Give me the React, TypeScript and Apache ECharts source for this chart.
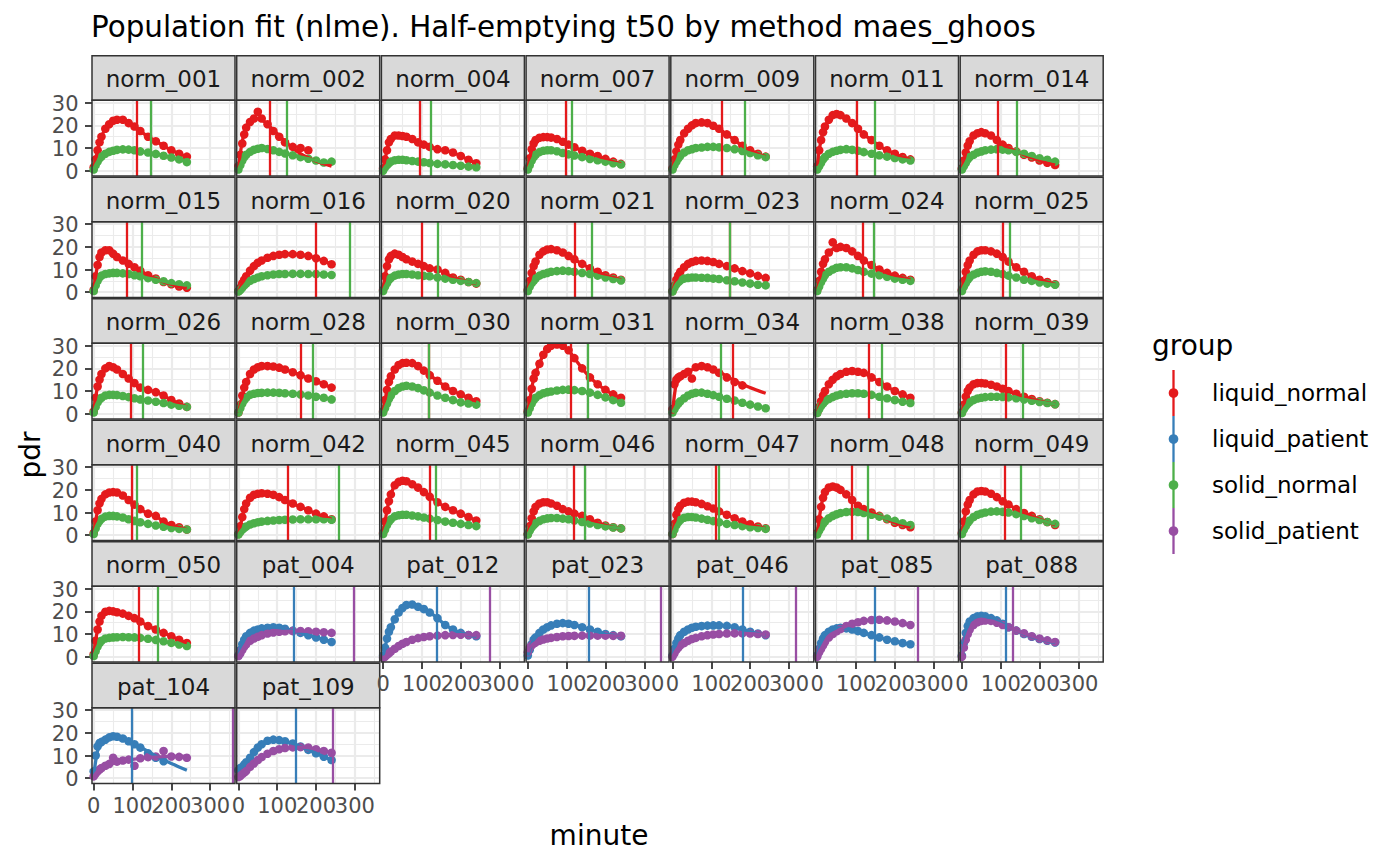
import React, { useEffect, useRef } from "react";
import * as echarts from "echarts";

const TITLE = "Population fit (nlme). Half-emptying t50 by method maes_ghoos";

const PANELS = [
  "norm_001", "norm_002", "norm_004", "norm_007", "norm_009", "norm_011", "norm_014",
  "norm_015", "norm_016", "norm_020", "norm_021", "norm_023", "norm_024", "norm_025",
  "norm_026", "norm_028", "norm_030", "norm_031", "norm_034", "norm_038", "norm_039",
  "norm_040", "norm_042", "norm_045", "norm_046", "norm_047", "norm_048", "norm_049",
  "norm_050", "pat_004", "pat_012", "pat_023", "pat_046", "pat_085", "pat_088",
  "pat_104", "pat_109",
];

const TIMES = [0, 5, 10, 15, 20, 30, 40, 50, 60, 75, 90, 105, 120, 140, 160, 180, 200, 220, 240];
const FIT_TIMES = [0, 10, 20, 30, 45, 60, 90, 120, 160, 200, 240];

// pdr of the liquid meal (liquid_normal / liquid_patient), one row per panel, at TIMES
const LIQUID_PDR: (number | null)[][] = [
  [1.5, 5, 9, 12.5, 15, 18.5, 20.5, 22, 22.5, 22.5, 21, 19.5, 17.5, 15, 13, 11, 9, 7.5, 6.2],
  [2, 7, 12, 16, 19, 21.5, 23, 26, 23, 20.5, 17.5, 15, 12.5, 10.5, 10, 9, null, null, null],
  [1, 5, 9, 12.5, 14, 15.5, 15.5, 15.3, 15, 14, 12.5, 11.5, 10.5, 9.5, 9, 8, 6.5, 4.8, 3.3],
  [1, 5.5, 9.5, 12, 13.5, 14.5, 14.8, 14.8, 14.6, 14, 12.8, 11.5, 10.3, 8.8, 7.5, 6.5, 5.2, 4, 3],
  [1, 5, 8.5, 11.5, 13.5, 16.5, 18.5, 20, 21, 21.3, 21, 19.8, 18.5, 16, 13.5, 11, 9, 7.5, 6.2],
  [2, 9, 13.5, 17, 19.5, 22.5, 24.5, 25, 24.5, 23, 21, 18.5, 16, 13.5, 11, 9, 7.5, 6, 5],
  [1, 4.5, 8, 11, 13, 15.5, 16.5, 17, 16.5, 15.5, 13.5, 11.5, 10, 8.5, 7, 5.8, 4.5, 3.5, 2.5],
  [1, 7, 12, 15.5, 17.5, 18.5, 18.5, 17, 15.5, 14, 12.5, 11, 9.5, 7.5, 6, 4.5, 3.5, 2.5, 2],
  [0.5, 2, 4, 5.5, 7, 9.5, 11.5, 13, 14, 15.2, 16, 16.5, 16.8, 16.8, 16.5, 16, 15, 13.8, 12.3],
  [1, 7, 11.5, 14.5, 16, 17, 16.5, 15.5, 14.5, 13.5, 12.5, 11.5, 10.5, 10, 8.5, 6.5, 5.5, 4.5, 3.8],
  [1, 5, 8.5, 11.5, 13.5, 16.5, 18, 18.8, 19, 18.5, 17.5, 16, 14.5, 12.5, 10.5, 9, 7.5, 6.5, 5.5],
  [0.5, 3, 5.5, 7.5, 9, 11, 12.5, 13.3, 13.8, 14, 13.8, 13.3, 12.5, 11.5, 10.5, 9.3, 8.3, 7.2, 6.3],
  [1, 5, 9, 12.5, 14.5, 17.5, 22, 19.5, 20, 19.5, 18, 16, 14, 12, 10, 8.5, 7.3, 6.3, 5.5],
  [1, 5, 9, 12, 14, 16.5, 18, 18.5, 18.5, 18, 17, 15.5, 13.5, 11, 9, 7, 5.5, 4.5, 3.5],
  [1, 7, 12, 15, 17.5, 20, 21, 20.5, 19.5, 17.5, 15.5, 13.5, 11.5, 10.5, 9.5, 8, 6, 4.5, 3],
  [0.5, 4, 8, 11.5, 14, 17.5, 19.5, 20.5, 21, 21, 20.8, 20.3, 19.5, 18.3, 17, 15.5, 14.3, 13, 11.5],
  [1, 6, 10.5, 14, 16.5, 19.5, 21.5, 22.3, 22.5, 22.3, 21, 19, 17, 14.5, 12, 10, 8.5, 7, 5.5],
  [1, 6, 11, 15.5, 18, 22, 26, 28.5, 30, 30.5, 30, 28, 24.5, 20, 16, 13, 10.5, 8.5, 7],
  [2, 13, 15, 16, 16.5, 17.5, 18.5, 15.5, 20.5, 21, 20.5, 19.5, 18, 16, 14, 12.5, null, null, null],
  [0.5, 3, 5.5, 8, 10, 13, 15, 16.5, 17.5, 18.5, 18.8, 18.5, 18, 16, 14, 12, 10, 8.5, 7],
  [0.5, 4, 7.5, 10, 11.5, 13, 13.5, 13.5, 13.3, 12.8, 12, 11, 10, 8.8, 7.5, 6.5, 5.5, 4.8, 4.2],
  [1, 6, 11, 14, 16, 18, 18.8, 19, 18.8, 17.5, 15.5, 13.5, 11.5, 9.5, 8.5, 6, 4.5, 3.5, 2.5],
  [0.5, 4, 8, 11.5, 14, 16.5, 17.8, 18.3, 18.5, 18.3, 17.8, 16.8, 15.5, 14, 12.5, 11, 9.5, 8.3, 7],
  [1, 6, 11, 15, 18, 22, 23.5, 24, 23.8, 22.5, 21, 19, 17, 14.5, 12.5, 11, 9.5, 8, 6.5],
  [0.5, 4, 7.5, 10.5, 12.5, 14, 14.5, 14.5, 14, 13, 11.5, 10.5, 9.5, 8.5, 7, 5.5, 4.3, 3.5, 3],
  [0.5, 5, 9, 11.5, 13, 14.3, 14.8, 14.8, 14.5, 13.8, 12.8, 11.8, 10.5, 9, 7.5, 6, 4.8, 3.8, 3],
  [1, 7, 12.5, 16.5, 19, 21, 21.5, 21, 20, 18, 15.5, 13, 11.5, 10, 8.5, 7, 5.5, 4.5, 3.5],
  [1, 6, 10.5, 13.5, 15.5, 18, 19.3, 19.5, 19.3, 18.3, 16.8, 15, 13.5, 11.5, 9.8, 8.5, 7, 5.8, 4.5],
  [1, 7, 12, 15.5, 18, 19.8, 20.2, 20, 19.6, 19, 18, 17, 15.5, 13.5, 12, 10.5, 9, 7.5, 6],
  [0.5, 3, 5.5, 7.5, 9, 10.5, 11.5, 12, 12.5, 12.8, 13, 12.8, 12.3, 11.5, 10.5, 9.5, 8.5, 7.5, 6.5],
  [0.5, 4, 8, 11, 13, 16.5, 19.5, 21.5, 22.8, 23, 22, 21, 19.5, 17, 14, 12, 10.5, 9.5, 9],
  [0.5, 3, 5.5, 7.5, 8.5, 10.5, 12, 13, 13.8, 14.5, 14.8, 14.5, 14, 13, 12, 11, 10, 9.5, 9],
  [0.5, 3.5, 6, 8, 9.5, 11, 12, 12.8, 13.2, 13.5, 13.7, 13.8, 13.8, 13.6, 13, 12, 11, 10.2, 9.5],
  [0.5, 3.5, 6, 8, 9.5, 11, 12, 12.5, 12.8, 12.5, 12, 11.3, 10.5, 9.5, 8.5, 7.5, 6.8, 6, 5.5],
  [0.5, 6, 10.5, 13.5, 15.5, 17, 17.8, 18, 17.8, 17, 16, 14.5, 13, 11.5, 10, 8.8, 7.8, 7, 6.3],
  [3, 10, 14, 15.5, 16, 17, 18, 18.5, 18.3, 17.5, 16.3, 15, 13.5, 11, 9, 7.5, null, null, null],
  [3.5, 4.5, 5, 6, 7, 9, 11.5, 13.5, 15, 16.5, 17, 16.8, 16.3, 15.3, 14, 12.5, 11, 9.5, 8],
];

// pdr of the solid meal (solid_normal / solid_patient), one row per panel, at TIMES
const SOLID_PDR: (number | null)[][] = [
  [0.5, 2.5, 4, 5.5, 6.2, 7.5, 8.3, 8.8, 9.2, 9.4, 9.3, 9, 8.5, 8, 7.4, 6.6, 5.8, 5, 3.8],
  [0.5, 2.5, 4.5, 6, 7, 8.3, 9.2, 9.7, 10, 9.6, 9, 8.3, 7.6, 6.8, 6, 5.3, 4.5, 3.6, 4],
  [0, 1.5, 2.5, 3.3, 4, 4.6, 4.8, 4.8, 4.6, 4.3, 4, 3.7, 3.4, 3, 2.8, 2.5, 2.2, 1.8, 1.5],
  [0.5, 2.5, 4.5, 6, 7, 8.2, 8.8, 9, 9, 8.6, 7.8, 7.2, 6.7, 6, 5.2, 4.6, 4, 3.3, 2.7],
  [0.5, 2.5, 4, 5.5, 6.5, 8, 9, 9.5, 10, 10.2, 10.5, 10.5, 10.3, 10, 9.5, 8.7, 7.8, 6.8, 6],
  [0.5, 2, 3.5, 5, 6, 7.5, 8.3, 8.8, 9.2, 9.5, 9.2, 8.8, 8.2, 7.5, 6.8, 6.2, 5.6, 5, 4.5],
  [0.5, 2, 3.5, 5, 6, 7, 8, 8.5, 9, 9.3, 9.5, 9.3, 9, 8.3, 7.5, 6.5, 5.5, 4.8, 4],
  [0.5, 3, 5, 6.5, 7.3, 8, 8.3, 8.5, 8.5, 8.3, 8, 7.5, 7, 6.2, 5.5, 4.8, 4, 3.5, 3],
  [0.3, 1, 2, 3, 3.8, 5, 5.8, 6.5, 7, 7.5, 7.8, 8, 8, 8.1, 8.1, 8, 8, 7.8, 7.6],
  [0.5, 2.5, 4, 5.5, 6.3, 7.3, 7.8, 8, 8, 7.8, 7.5, 7.2, 7, 6.5, 6, 5.5, 5, 4.5, 4],
  [0.5, 2.5, 4, 5, 6, 7.3, 8, 8.5, 9, 9.3, 9.5, 9.3, 9, 8.5, 8, 7.3, 6.5, 5.8, 5.2],
  [0.3, 2, 3.5, 4.5, 5.2, 6, 6.3, 6.5, 6.5, 6.4, 6.3, 6, 5.8, 5.3, 4.8, 4.3, 3.8, 3.3, 3],
  [0.5, 2.5, 4.5, 6, 7.5, 9, 10, 10.8, 11, 11, 10.5, 9.8, 9, 8.2, 7.5, 6.8, 6, 5.5, 5],
  [0.5, 2.5, 4, 5.5, 6.5, 7.8, 8.5, 9, 9.2, 9, 8.5, 8, 7.3, 6.5, 5.5, 5, 4.3, 3.8, 3.3],
  [0.5, 3, 5, 6.3, 7, 8, 8.3, 8.3, 8.2, 7.8, 7.3, 6.8, 6.3, 5.8, 5.3, 4.7, 4, 3.5, 3],
  [0.5, 2.5, 4.5, 6, 7, 8.3, 8.8, 9.1, 9.2, 9.3, 9.3, 9.2, 9, 8.8, 8.5, 8, 7.5, 7, 6.3],
  [0.5, 2.5, 4.5, 6.5, 8, 10, 11.3, 12, 12.3, 12, 11.3, 10.3, 9.3, 8, 7, 6, 5, 4.5, 4],
  [0.5, 2.5, 4.5, 6, 7, 8.2, 9, 9.5, 9.8, 10.2, 10.5, 10.6, 10.4, 10, 9.3, 8.3, 7.2, 6, 4.8],
  [0.5, 2, 3.5, 4.5, 5.5, 6.8, 8, 8.8, 9.2, 9.3, 8.8, 8.2, 7.5, 6.6, 5.8, 4.8, 4, 3.2, 2.4],
  [0.3, 2, 3.5, 4.5, 5.5, 6.5, 7.3, 8, 8.5, 8.8, 9, 9, 8.8, 8.3, 7.5, 6.8, 6, 5.3, 4.7],
  [0.3, 2, 3.3, 4.3, 5, 6, 6.7, 7, 7.3, 7.5, 7.5, 7.4, 7.2, 6.8, 6.3, 5.7, 5.2, 4.7, 4.2],
  [0.5, 3, 5, 6.3, 7.2, 8.2, 8.5, 8.5, 8.3, 7.8, 7, 6.3, 5.7, 5, 4.3, 3.7, 3.2, 2.8, 2.5],
  [0.3, 1.5, 2.5, 3.2, 3.8, 4.7, 5.3, 5.7, 6, 6.3, 6.5, 6.7, 6.8, 6.9, 7, 7, 7, 7, 6.8],
  [0.5, 2.5, 4.5, 6, 7, 8.3, 8.8, 9, 9, 8.7, 8.3, 7.8, 7.3, 6.7, 6, 5.5, 5, 4.5, 4],
  [0.3, 2, 3.5, 4.5, 5.3, 6.3, 7, 7.4, 7.6, 7.6, 7.3, 7, 6.5, 5.8, 5.2, 4.5, 3.9, 3.4, 3],
  [0.5, 2.5, 4.5, 5.8, 6.7, 7.7, 8, 8, 7.8, 7.3, 6.8, 6.2, 5.7, 5, 4.5, 4, 3.5, 3.2, 2.8],
  [0.3, 2, 3.5, 5, 6, 7.5, 8.5, 9.2, 9.8, 10.2, 10.3, 10.2, 9.8, 9, 8.2, 7.3, 6.3, 5.3, 4.5],
  [0.5, 2.5, 4, 5.5, 6.5, 8, 9, 9.6, 10, 10.4, 10.5, 10.3, 10, 9.3, 8.5, 7.5, 6.7, 5.8, 5],
  [0.3, 2.5, 4.5, 6, 7, 8, 8.3, 8.5, 8.6, 8.7, 8.6, 8.5, 8.3, 7.9, 7.4, 6.8, 6.1, 5.4, 4.7],
  [0.3, 1.5, 3, 4.5, 5.5, 7, 8, 8.8, 9.5, 10.2, 10.7, 11, 11.2, 11.3, 11.3, 11.2, 11, 10.8, 10.5],
  [-0.5, 0, 0.8, 1.5, 2.3, 3.5, 4.7, 5.7, 6.5, 7.5, 8.2, 8.7, 9, 9.3, 9.5, 9.6, 9.7, 9.6, 9.5],
  [2, 4, 5, 5.8, 6.3, 7, 7.6, 8, 8.3, 8.7, 9, 9.1, 9.2, 9.3, 9.3, 9.3, 9.3, 9.2, 9.2],
  [0, 1.5, 3, 4, 5, 6, 7, 7.8, 8.3, 9, 9.5, 9.8, 10, 10.2, 10.3, 10.3, 10.2, 10, 9.8],
  [0, 2, 3.5, 5, 6.5, 8.5, 10, 11.2, 12.2, 13.5, 14.5, 15.2, 15.8, 16.2, 16.3, 16, 15.5, 14.8, 14],
  [0, 4, 7.5, 10, 12, 14, 15.2, 15.8, 16, 15.8, 15, 14, 13, 11.5, 10.3, 9, 8, 7.2, 6.5],
  [0.8, 2, 3, 3.8, 4.5, 5.5, 6.3, 9, 7.3, 7.8, 8.2, 5.5, 8.8, 9.3, 9.6, 12, 9.6, 9.4, 9],
  [0.5, 1, 1.8, 2.5, 3.2, 5, 6.5, 8, 9.3, 10.8, 12, 12.8, 13.3, 13.6, 13.7, 13.5, 12.8, 12, 11.2],
];

// half-emptying times t50 (minutes), one value per panel
const T50_LIQUID = [
  112, 81, 95, 99, 126, 103, 92,
  85, 200, 99, 120, 147, 117, 105,
  96, 161, 117, 111, 155, 133, 113,
  99, 126, 120, 118, 112, 89, 110,
  115, 143, 137, 157, 180, 147, 112,
  98, 147,
];
const T50_SOLID = [
  148, 125, 123, 114, 185, 148, 141,
  124, 288, 140, 166, 148, 146, 122,
  126, 191, 118, 154, 123, 166, 158,
  111, 258, 135, 146, 120, 131, 151,
  164, 298, 275, 342, 318, 258, 130,
  358, 244,
];

// fitted curves (at FIT_TIMES) where the fit departs visibly from the points
const FIT_norm_002_liquid = [1, 13, 19, 21.5, 23, 22.5, 18, 13, 7.5, 4.3, 2];
const FIT_norm_024_liquid = [0.5, 9, 14.5, 17.5, 19.5, 20, 18, 14, 10, 7.3, 5.5];
const FIT_norm_034_liquid = [0, 13.5, 16, 17.5, 19, 20, 20.5, 18.5, 14.5, 11.5, 9];
const FIT_pat_104_liquid = [1, 12, 15.5, 17, 18.2, 18.3, 16.5, 13.8, 9.8, 6.5, 3.5];
const FIT_pat_104_solid = [0.8, 3, 4.3, 5.3, 6.3, 7, 8, 8.7, 9.3, 9.6, 9.7];
const LIQUID_FIT: Record<string, number[]> = {
  norm_002: FIT_norm_002_liquid,
  norm_024: FIT_norm_024_liquid,
  norm_034: FIT_norm_034_liquid,
  pat_104: FIT_pat_104_liquid,
};
const SOLID_FIT: Record<string, number[]> = { pat_104: FIT_pat_104_solid };

const GROUPS = ["liquid_normal", "liquid_patient", "solid_normal", "solid_patient"];
const GROUP_COLORS = ["#E41A1C", "#377EB8", "#4DAF4A", "#984EA3"];

const X_TICKS = [0, 100, 200, 300];
const X_MINOR = [50, 150, 250, 350];
const Y_TICKS = [0, 10, 20, 30];
const Y_MINOR = [5, 15, 25];

const FONT = "DejaVu Sans";
const COLS = 7;
const COL_X0 = 92;
const COL_STEP = 144.7;
const PANEL_W = 143;
const ROW_Y0 = 55.7;
const ROW_STEP = 121.5;
const STRIP_H = 44.6;
const PANEL_H = 75.7;
const X_MIN = -4.4;
const X_MAX = 364;
const Y_MIN = -2.34;
const Y_MAX = 31.05;

function pairs(times: number[], vals: (number | null)[]) {
  const out: number[][] = [];
  times.forEach((t, k) => {
    const v = vals[k];
    if (v !== null && v !== undefined) out.push([t, v]);
  });
  return out;
}

function panelPos(i: number) {
  const r = Math.floor(i / COLS);
  const c = i % COLS;
  const left = COL_X0 + c * COL_STEP;
  const stripTop = ROW_Y0 + r * ROW_STEP;
  const top = stripTop + STRIP_H;
  const isBottom = i + COLS >= PANELS.length;
  const isLeft = c === 0;
  return { r, c, left, stripTop, top, isBottom, isLeft };
}

function buildOption() {
  const grids: any[] = [];
  const xAxes: any[] = [];
  const yAxes: any[] = [];
  const series: any[] = [];

  const gridLineData = [
    ...X_TICKS.map((v) => ({ xAxis: v, lineStyle: { color: "#EBEBEB", width: 2.2, type: "solid" } })),
    ...X_MINOR.map((v) => ({ xAxis: v, lineStyle: { color: "#EBEBEB", width: 1.1, type: "solid" } })),
    ...Y_TICKS.map((v) => ({ yAxis: v, lineStyle: { color: "#EBEBEB", width: 2.2, type: "solid" } })),
    ...Y_MINOR.map((v) => ({ yAxis: v, lineStyle: { color: "#EBEBEB", width: 1.1, type: "solid" } })),
  ];

  PANELS.forEach((name, i) => {
    const { left, top, isBottom, isLeft } = panelPos(i);
    const isPat = name.startsWith("pat");
    const gA = isPat ? 1 : 0;
    const gB = isPat ? 3 : 2;

    grids.push({
      left, top, width: PANEL_W, height: PANEL_H,
      containLabel: false, outerBoundsMode: "none", show: false,
    });
    xAxes.push({
      gridIndex: i, type: "value", min: X_MIN, max: X_MAX,
      axisLine: { show: false, onZero: false },
      splitLine: { show: false },
      minorSplitLine: { show: false },
      axisTick: {
        show: isBottom, customValues: X_TICKS, length: 7,
        lineStyle: { color: "#333333", width: 1.8 },
      },
      axisLabel: { show: false },
    });
    yAxes.push({
      gridIndex: i, type: "value", min: Y_MIN, max: Y_MAX,
      axisLine: { show: false, onZero: false },
      splitLine: { show: false },
      minorSplitLine: { show: false },
      axisTick: {
        show: isLeft, customValues: Y_TICKS, length: 7,
        lineStyle: { color: "#333333", width: 1.8 },
      },
      axisLabel: { show: false },
    });

    const liqPts = pairs(TIMES, LIQUID_PDR[i]);
    const solPts = pairs(TIMES, SOLID_PDR[i]);
    const liqFit = LIQUID_FIT[name] ? pairs(FIT_TIMES, LIQUID_FIT[name]) : liqPts;
    const solFit = SOLID_FIT[name] ? pairs(FIT_TIMES, SOLID_FIT[name]) : solPts;

    series.push({
      type: "scatter", name: GROUPS[gA], xAxisIndex: i, yAxisIndex: i,
      data: liqPts, symbol: "circle", symbolSize: 8.6, z: 3, silent: true,
      itemStyle: { color: GROUP_COLORS[gA], opacity: 1 },
      markLine: {
        silent: true, symbol: ["none", "none"], label: { show: false },
        z: 1, animation: false, data: gridLineData,
      },
    });
    series.push({
      type: "scatter", name: GROUPS[gB], xAxisIndex: i, yAxisIndex: i,
      data: solPts, symbol: "circle", symbolSize: 8.6, z: 3, silent: true,
      itemStyle: { color: GROUP_COLORS[gB], opacity: 1 },
    });
    series.push({
      type: "line", name: GROUPS[gA] + "_fit", xAxisIndex: i, yAxisIndex: i,
      data: liqFit, showSymbol: false, symbol: "none", smooth: 0.35, z: 4, silent: true,
      lineStyle: { color: GROUP_COLORS[gA], width: 3.3 },
      markLine: {
        silent: true, symbol: ["none", "none"], label: { show: false },
        z: 6, animation: false,
        data: [{ xAxis: T50_LIQUID[i], lineStyle: { color: GROUP_COLORS[gA], width: 2.3, type: "solid" } }],
      },
    });
    series.push({
      type: "line", name: GROUPS[gB] + "_fit", xAxisIndex: i, yAxisIndex: i,
      data: solFit, showSymbol: false, symbol: "none", smooth: 0.35, z: 4, silent: true,
      lineStyle: { color: GROUP_COLORS[gB], width: 3.3 },
      markLine: {
        silent: true, symbol: ["none", "none"], label: { show: false },
        z: 7, animation: false,
        data: [{ xAxis: T50_SOLID[i], lineStyle: { color: GROUP_COLORS[gB], width: 2.3, type: "solid" } }],
      },
    });
  });

  return {
    animation: false,
    backgroundColor: "#FFFFFF",
    textStyle: { fontFamily: FONT },
    grid: grids,
    xAxis: xAxes,
    yAxis: yAxes,
    series,
  };
}

function txt(text: string, x: number, y: number, size: number, fill: string, align = "left", extra: any = {}) {
  return {
    type: "text", z: 101, silent: true, ...extra,
    style: {
      text, x, y, align, verticalAlign: "middle", textAlign: align, textVerticalAlign: "middle",
      fontSize: size, fontFamily: FONT, fill,
    },
  };
}

function buildGraphics(chart: any) {
  const elements: any[] = [];
  PANELS.forEach((name, i) => {
    const { left, stripTop, top, isBottom, isLeft } = panelPos(i);
    elements.push({
      type: "rect", z: 100, silent: true,
      shape: { x: left, y: stripTop, width: PANEL_W, height: STRIP_H },
      style: { fill: "#D9D9D9", stroke: "#333333", lineWidth: 1.5 },
    });
    elements.push(txt(name, left + PANEL_W / 2, stripTop + STRIP_H / 2 + 1, 23, "#1A1A1A", "center"));
    elements.push({
      type: "rect", z: 100, silent: true,
      shape: { x: left, y: top, width: PANEL_W, height: PANEL_H },
      style: { fill: "none", stroke: "#333333", lineWidth: 1.5 },
    });
    // tick labels placed through the axes' own scales
    if (isBottom) {
      const bottomPx = chart.convertToPixel({ gridIndex: i }, [X_MIN, Y_MIN])[1];
      X_TICKS.forEach((v) => {
        const px = chart.convertToPixel({ gridIndex: i }, [v, Y_MIN])[0];
        elements.push(txt(String(v), px, bottomPx + 22.3, 21, "#4D4D4D", "center"));
      });
    }
    if (isLeft) {
      const leftPx = chart.convertToPixel({ gridIndex: i }, [X_MIN, Y_MIN])[0];
      Y_TICKS.forEach((v) => {
        const py = chart.convertToPixel({ gridIndex: i }, [X_MIN, v])[1];
        elements.push(txt(String(v), leftPx - 13.5, py + 1, 21, "#4D4D4D", "right"));
      });
    }
  });

  elements.push(txt(TITLE, 91, 27, 29.4, "#000000", "left"));
  elements.push(txt("minute", 599, 835, 28, "#000000", "center"));
  elements.push(txt("pdr", 0, 0, 28, "#000000", "center", { x: 30, y: 455, rotation: Math.PI / 2 }));

  elements.push(txt("group", 1152, 345, 28, "#000000", "left"));
  GROUPS.forEach((g, k) => {
    const yTop = 370 + 46 * k;
    const yc = yTop + 23;
    elements.push({
      type: "line", z: 100, silent: true,
      shape: { x1: 1173.5, y1: yTop, x2: 1173.5, y2: yTop + 46 },
      style: { stroke: GROUP_COLORS[k], lineWidth: 2.3 },
    });
    elements.push({
      type: "circle", z: 101, silent: true,
      shape: { cx: 1173.5, cy: yc, r: 4.8 },
      style: { fill: GROUP_COLORS[k] },
    });
    elements.push(txt(g, 1212, yc, 23, "#000000", "left"));
  });
  return elements;
}

export default function App() {
  const ref = useRef<HTMLDivElement>(null);
  useEffect(() => {
    if (!ref.current) return;
    const chart = echarts.init(ref.current, null, { renderer: "svg" });
    chart.setOption(buildOption());
    chart.setOption({ graphic: { elements: buildGraphics(chart) } });
    return () => chart.dispose();
  }, []);
  return (
    <div
      ref={ref}
      style={{ position: "fixed", left: 0, top: 0, width: 1400, height: 866, background: "#FFFFFF" }}
    />
  );
}
